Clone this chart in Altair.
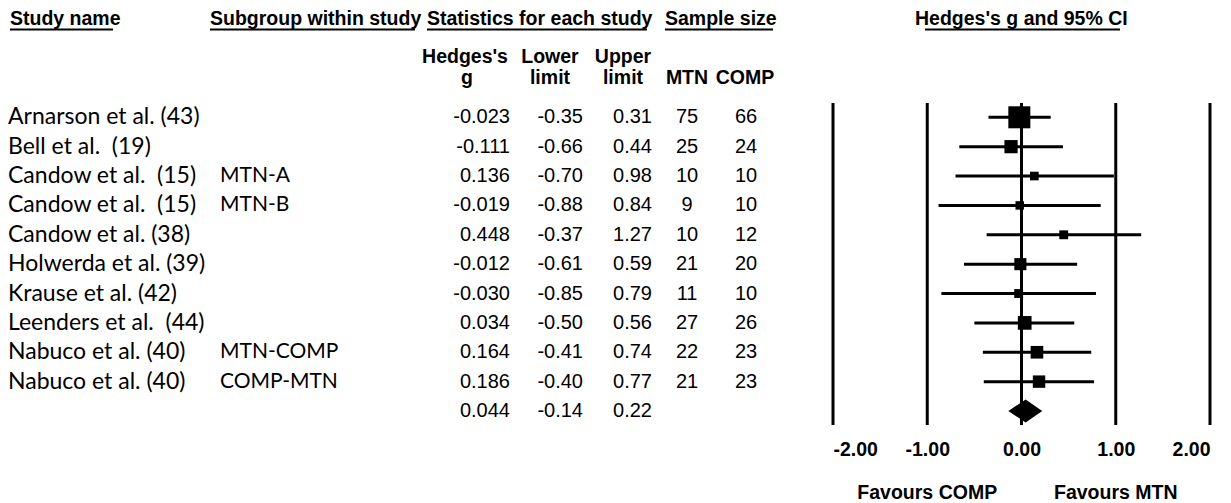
import altair as alt
import pandas as pd

# ---------------- data ----------------
studies = ["Arnarson et al. (43)", "Bell et al.\u00a0 (19)", "Candow et al.\u00a0 (15)", "Candow et al.\u00a0 (15)",
           "Candow et al. (38)", "Holwerda et al. (39)", "Krause et al. (42)", "Leenders et al.\u00a0 (44)",
           "Nabuco et al. (40)", "Nabuco et al. (40)"]
subgroups = ["", "", "MTN-A", "MTN-B", "", "", "", "", "MTN-COMP", "COMP-MTN"]
hedges_g = [-0.023, -0.111, 0.136, -0.019, 0.448, -0.012, -0.030, 0.034, 0.164, 0.186]
lower = [-0.35, -0.66, -0.70, -0.88, -0.37, -0.61, -0.85, -0.50, -0.41, -0.40]
upper = [0.31, 0.44, 0.98, 0.84, 1.27, 0.59, 0.79, 0.56, 0.74, 0.77]
n_mtn = [75, 25, 10, 9, 10, 21, 11, 27, 22, 21]
n_comp = [66, 24, 10, 10, 12, 20, 10, 26, 23, 23]
summary_g, summary_lower, summary_upper = 0.044, -0.14, 0.22
axis_ticks = [-2, -1, 0, 1, 2]
axis_notes = ["Favours COMP", "Favours MTN"]
axis_note_pos = [-1, 1]

# ---------------- tables ----------------
n = len(studies)
df = pd.DataFrame({
    "row": list(range(n)),
    "study": studies,
    "sub": subgroups,
    "g": hedges_g,
    "lo": lower,
    "hi": upper,
    "g_txt": [f"{v:.3f}" for v in hedges_g],
    "lo_txt": [f"{v:.2f}" for v in lower],
    "hi_txt": [f"{v:.2f}" for v in upper],
    "mtn": [str(v) for v in n_mtn],
    "comp": [str(v) for v in n_comp],
})
# inverse-variance weight from the CI width
df["w"] = [(3.92 / (h - l)) ** 2 for l, h in zip(lower, upper)]
wmax = float(df["w"].max())

summ_row = n
summ = pd.DataFrame({"row": [summ_row], "g_txt": [f"{summary_g:.3f}"],
                     "lo_txt": [f"{summary_lower:.2f}"], "hi_txt": [f"{summary_upper:.2f}"]})
half = 0.39
diamond = pd.DataFrame({
    "x": [summary_lower, summary_g, summary_upper],
    "y": [summ_row, summ_row - half, summ_row],
    "y2": [summ_row, summ_row + half, summ_row],
})
grid = pd.DataFrame({"t": axis_ticks})
notes = pd.DataFrame({"x": axis_note_pos, "txt": axis_notes})
one = pd.DataFrame({"a": [0]})

# ---------------- scales ----------------
xs = alt.Scale(domain=[-2, 2], range=[833, 1210])
ys = alt.Scale(domain=[0, 10], range=[117.3, 411])

ARIAL = "Liberation Sans"
CALIBRI = "Lato"
BOLD_SIZE = 19.5
NUM_SIZE = 20
NAME_SIZE = 23
SUB_SIZE = 21

layers = []

# vertical reference lines + axis
layers.append(
    alt.Chart(grid).mark_rule(color="black", strokeWidth=3).encode(
        x=alt.X("t:Q", scale=xs, axis=alt.Axis(
            values=axis_ticks, domain=False, ticks=False, tickSize=0, grid=False, title=None,
            labelExpr="datum.value < 0 ? '-' + format(-datum.value, '.2f') : format(datum.value, '.2f')",
            labelFont=ARIAL, labelFontSize=BOLD_SIZE, labelFontWeight="bold", labelColor="black",
            labelPadding=10)),
        y=alt.value(103), y2=alt.value(425))
)

# CI lines
layers.append(
    alt.Chart(df).mark_rule(color="black", strokeWidth=3).encode(
        x=alt.X("lo:Q", scale=xs), x2="hi:Q",
        y=alt.Y("row:Q", scale=ys, axis=None))
)
# squares
layers.append(
    alt.Chart(df).mark_square(color="black", opacity=1, filled=True).encode(
        x=alt.X("g:Q", scale=xs), y=alt.Y("row:Q", scale=ys),
        size=alt.Size("w:Q", scale=alt.Scale(domain=[0, wmax], range=[0, 22 * 22]), legend=None))
)
# summary diamond
layers.append(
    alt.Chart(diamond).mark_area(color="black", orient="vertical", opacity=1).encode(
        x=alt.X("x:Q", scale=xs), y=alt.Y("y:Q", scale=ys), y2="y2:Q")
)

# table columns
def col(data, field, x, align, font, size):
    return alt.Chart(data).mark_text(align=align, baseline="middle", font=font, fontSize=size,
                                     color="black").encode(
        x=alt.value(x), y=alt.Y("row:Q", scale=ys), text=alt.Text(f"{field}:N"))

layers += [
    col(df, "study", 8, "left", CALIBRI, NAME_SIZE),
    col(df, "sub", 220, "left", CALIBRI, SUB_SIZE),
    col(df, "g_txt", 510, "right", ARIAL, NUM_SIZE),
    col(df, "lo_txt", 583, "right", ARIAL, NUM_SIZE),
    col(df, "hi_txt", 652, "right", ARIAL, NUM_SIZE),
    col(df, "mtn", 687, "center", ARIAL, NUM_SIZE),
    col(df, "comp", 746, "center", ARIAL, NUM_SIZE),
    col(summ, "g_txt", 510, "right", ARIAL, NUM_SIZE),
    col(summ, "lo_txt", 583, "right", ARIAL, NUM_SIZE),
    col(summ, "hi_txt", 652, "right", ARIAL, NUM_SIZE),
]

# headers
def label(text, x, y, align="left"):
    return alt.Chart(one).mark_text(text=text, align=align, baseline="middle", font=ARIAL,
                                    fontSize=BOLD_SIZE, fontWeight="bold", color="black").encode(
        x=alt.value(x), y=alt.value(y))

def underline(x1, x2, y=29.5):
    return alt.Chart(one).mark_rule(color="black", strokeWidth=2).encode(
        x=alt.value(x1), x2=alt.value(x2), y=alt.value(y))

for text, x1, u1, u2 in [("Study name", 10, 10, 113),
                         ("Subgroup within study", 210, 210, 415),
                         ("Statistics for each study", 427, 427, 647),
                         ("Sample size", 665, 665, 773),
                         ("Hedges's g and 95% CI", 915, 925, 1120)]:
    layers.append(label(text, x1, 19))
    layers.append(underline(u1, u2))

for text, x, y in [("Hedges's", 465, 57), ("g", 467, 78), ("Lower", 550, 57), ("limit", 550, 78),
                   ("Upper", 623, 57), ("limit", 623, 78), ("MTN", 687, 78), ("COMP", 745, 78)]:
    layers.append(label(text, x, y, "center"))

# favours notes
layers.append(
    alt.Chart(notes).mark_text(align="center", baseline="middle", font=ARIAL, fontSize=BOLD_SIZE,
                               fontWeight="bold", color="black").encode(
        x=alt.X("x:Q", scale=xs), y=alt.value(493), text="txt:N")
)

chart = alt.layer(*layers).properties(
    width=1231, height=430,
    autosize=alt.AutoSizeParams(type="none"),
    padding={"left": 0, "top": 0, "right": 0, "bottom": 73},
    background="white",
).configure_view(stroke=None)

chart.save("out.html", embed_options={"renderer": "svg", "actions": False})
